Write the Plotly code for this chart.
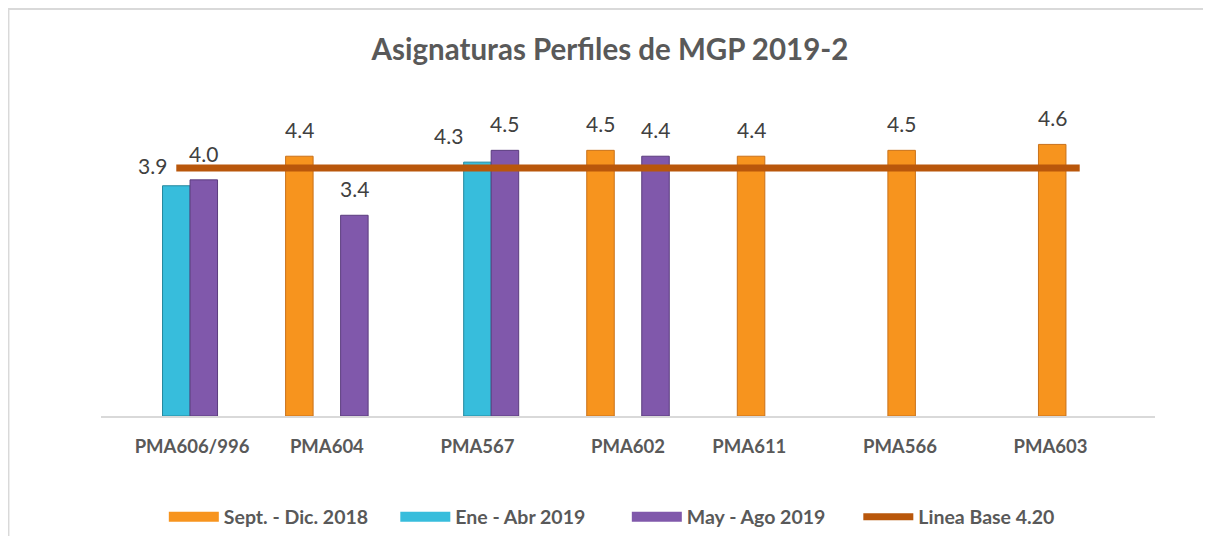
import plotly.graph_objects as go

# ---- data ----
categories = ["PMA606/996", "PMA604", "PMA567", "PMA602", "PMA611", "PMA566", "PMA603"]
tick_text = ["\u00a0" * 7 + "PMA606/996", "PMA604", "PMA567", "PMA602",
             "PMA611" + "\u00a0" * 13, "PMA566" + "\u00a0" * 13, "PMA603" + "\u00a0" * 13]
sept_dic_2018 = [None, 4.4, None, 4.5, 4.4, 4.5, 4.6]
ene_abr_2019 = [3.9, None, 4.3, None, None, None, None]
may_ago_2019 = [4.0, 3.4, 4.5, 4.4, None, None, None]
linea_base = [4.2] * 7

series_names = ["Sept. - Dic. 2018", "Ene - Abr 2019", "May - Ago 2019"]
series_values = [sept_dic_2018, ene_abr_2019, may_ago_2019]
series_colors = ["#F7941E", "#37BDDC", "#8058AB"]
series_edges = ["#C9711A", "#24889E", "#5A3C7D"]
line_name = "Linea Base 4.20"
line_color = "#B9570B"

FONT = "Lato"
GRAY = "#595959"

fig = go.Figure()

for name, vals, col, edge in zip(series_names, series_values, series_colors, series_edges):
    fig.add_trace(go.Bar(
        x=categories, y=vals, name=name, marker=dict(color=col, line=dict(color=edge, width=1)),
        showlegend=False, hoverinfo="skip"))

fig.add_trace(go.Scatter(
    x=categories, y=linea_base, mode="lines", name=line_name,
    line=dict(color=line_color, width=7), showlegend=False))

# legend entries (wide swatches)
for name, col, w in zip(series_names + [line_name], series_colors + [line_color], [10, 10, 10, 7]):
    fig.add_trace(go.Scatter(x=[None], y=[None], mode="lines", name=name,
                             line=dict(color=col, width=w), showlegend=True))

# data labels
label_xshift = [[0] * 7, [-24, 0, -29, 0, 0, 0, 0], [0] * 7]
label_yshift = [[12] * 7, [6, 12, 12, 12, 12, 12, 12], [12] * 7]
slot = [-1, 0, 1]
bar_w = 0.1826
for s, vals in enumerate(series_values):
    for i, v in enumerate(vals):
        if v is None:
            continue
        fig.add_annotation(
            x=i + slot[s] * bar_w, y=v, xref="x", yref="y", text=f"{v:.1f}",
            showarrow=False, yanchor="bottom", xanchor="center",
            xshift=label_xshift[s][i], yshift=label_yshift[s][i],
            font=dict(family=FONT, size=21, color="#404040"))

# outer chart border
fig.add_shape(type="rect", xref="paper", yref="paper", x0=-0.0878, x1=1.3, y0=-0.8, y1=1.326,
              line=dict(color="#D9D9D9", width=2), fillcolor="rgba(0,0,0,0)", layer="below")

W, H = 1195, 528
fig.update_layout(
    width=W, height=H,
    margin=dict(l=93, r=48, t=101, b=H - 408, autoexpand=False),
    paper_bgcolor="white", plot_bgcolor="white",
    barmode="group", bargap=0.452, bargroupgap=0,
    title=dict(text="<b>Asignaturas Perfiles de MGP 2019-2</b>", x=602 / W, xanchor="center",
               y=(H - 42) / H, yanchor="middle", font=dict(family=FONT, size=29.5, color=GRAY)),
    xaxis=dict(type="category", tickmode="array", tickvals=categories, ticktext=tick_text,
               showline=True, linecolor="#D9D9D9", linewidth=1.5, ticks="", showgrid=False,
               ticklabelstandoff=13,
               tickfont=dict(family=FONT, size=18.5, color=GRAY, weight="bold"), range=[-0.5, 6.5]),
    yaxis=dict(range=[0, 5.2], visible=False, showgrid=False, zeroline=False),
    legend=dict(orientation="h", x=0.0596, xanchor="left", yref="container",
                y=(H - 509) / H, yanchor="middle",
                entrywidth=166.5, entrywidthmode="pixels",
                font=dict(family=FONT, size=19.5, color=GRAY, weight="bold"), itemwidth=50),
    showlegend=True,
)

fig.write_html("out.html")
